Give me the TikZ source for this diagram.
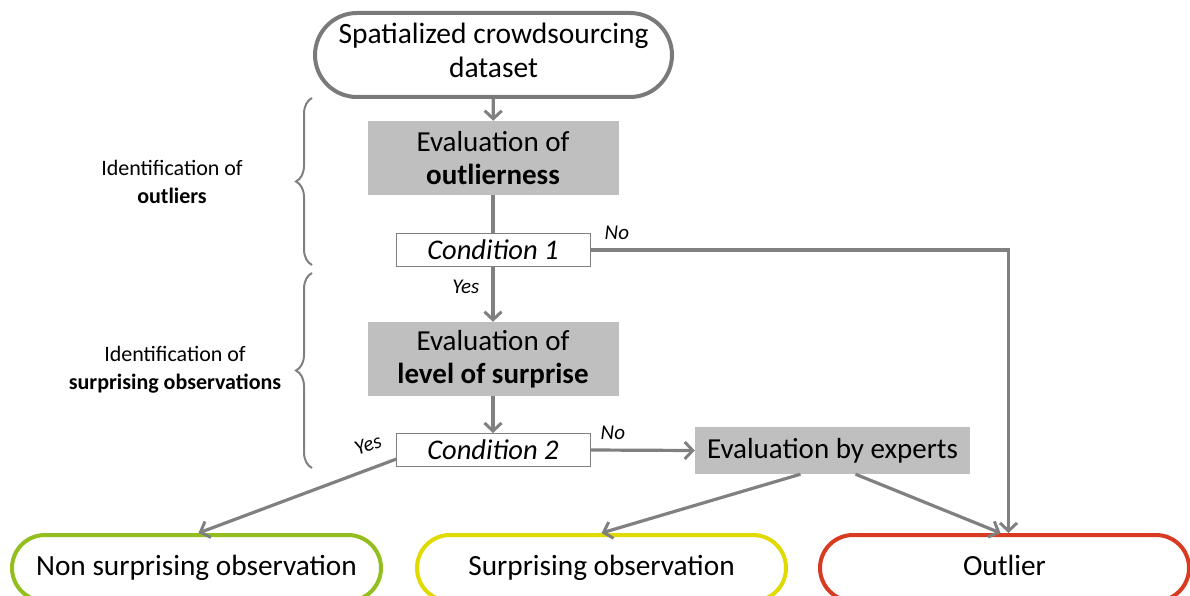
\documentclass[tikz,border=0pt]{standalone}
\usepackage{fontspec}
\setmainfont{Carlito}
\usetikzlibrary{arrows.meta,shapes.misc,decorations.pathreplacing}
\definecolor{linegray}{HTML}{808080}
\definecolor{boxgray}{HTML}{BFBFBF}
\definecolor{startgray}{HTML}{7A7A7A}
\definecolor{okgreen}{HTML}{92BE1E}
\definecolor{surpyellow}{HTML}{E0DA00}
\definecolor{outred}{HTML}{D93A22}
\begin{document}
\begin{tikzpicture}[x=1pt,y=-1pt,
  conn/.style={draw=linegray,line width=3.2pt},
  arr/.style={conn,-{Straight Barb[length=8pt,width=17pt,line width=3pt]}},
  stadium/.style={rounded rectangle,line width=4pt,fill=white,align=center,inner sep=0pt},
  endstad/.style={stadium,minimum width=369pt,minimum height=66pt,text height=20pt,text depth=6pt,font=\fontsize{29.3}{33}\selectfont},
  evalbox/.style={rectangle,fill=boxgray,minimum width=251pt,minimum height=74pt,align=center,inner sep=0pt,font=\fontsize{29}{33}\selectfont},
  condbox/.style={rectangle,draw=linegray,line width=1pt,fill=white,minimum width=194pt,minimum height=33pt,inner sep=0pt,font=\fontsize{28.5}{30}\selectfont\itshape},
  smalllab/.style={font=\fontsize{21}{22}\selectfont\itshape,inner sep=1pt},
  sidelab/.style={align=center,font=\fontsize{22}{28}\selectfont},
  bracestyle/.style={draw=linegray,line width=2pt,decorate,decoration={brace,amplitude=16pt}}
]
\useasboundingbox (0,0) rectangle (1190,596);

\node[stadium,draw=startgray,minimum width=357pt,minimum height=84pt,text depth=9pt,font=\fontsize{29.5}{34}\selectfont] (start) at (493.5,55) {Spatialized crowdsourcing\\dataset};
\node[evalbox] (eval1) at (493,158) {Evaluation of\\\textbf{outlierness}};
\node[condbox] (c1) at (493,250) {Condition 1};
\node[evalbox] (eval2) at (493,359) {Evaluation of\\\textbf{level of surprise}};
\node[condbox] (c2) at (493,450) {Condition 2};
\node[rectangle,fill=boxgray,minimum width=275pt,minimum height=47pt,inner sep=0pt,font=\fontsize{29}{33}\selectfont] (experts) at (832.5,450.5) {Evaluation by experts};

\node[endstad,draw=okgreen] (nonsurp) at (196.5,568) {Non surprising observation};
\node[endstad,draw=surpyellow] (surp) at (601.5,568) {Surprising observation};
\node[endstad,draw=outred] (outlier) at (1004.5,568) {Outlier};

\node[sidelab] (lab1) at (172,182) {Identification of\\\textbf{outliers}};
\node[sidelab] (lab2) at (175,370) {Identification of\\\textbf{surprising observations}};

\coordinate (b1t) at (312,98);
\coordinate (b1b) at (312,265);
\coordinate (b2t) at (312,273);
\coordinate (b2b) at (312,468);
\draw[bracestyle] (b1b) -- (b1t);
\draw[bracestyle] (b2b) -- (b2t);

\draw[arr] (start) -- (eval1);
\draw[conn] (eval1) -- (c1);
\draw[arr] (c1) -- node[smalllab,left,xshift=-11pt,yshift=8pt] (yes1) {Yes} (eval2);
\draw[arr] (eval2) -- (c2);
\draw[arr] (c1.east) -- ([xshift=4pt]outlier.north |- c1.east) -- ([xshift=4pt]outlier.north);
\node[smalllab,anchor=south west] (no1) at ([xshift=13pt,yshift=9pt]c1.east) {No};
\draw[arr] (c2.east) -- (experts.west);
\node[smalllab,anchor=south west] (no2) at ([xshift=9pt,yshift=9pt]c2.east) {No};
\draw[arr] ([xshift=1pt,yshift=8pt]c2.south west) -- ([xshift=2pt]nonsurp.north);
\node[smalllab,rotate=20] (yes2) at (368,445) {Yes};
\draw[arr] ([xshift=-32pt]experts.south) -- (surp.north);
\draw[arr] ([xshift=23pt]experts.south) -- ([xshift=-4pt]outlier.north);
\end{tikzpicture}
\end{document}
